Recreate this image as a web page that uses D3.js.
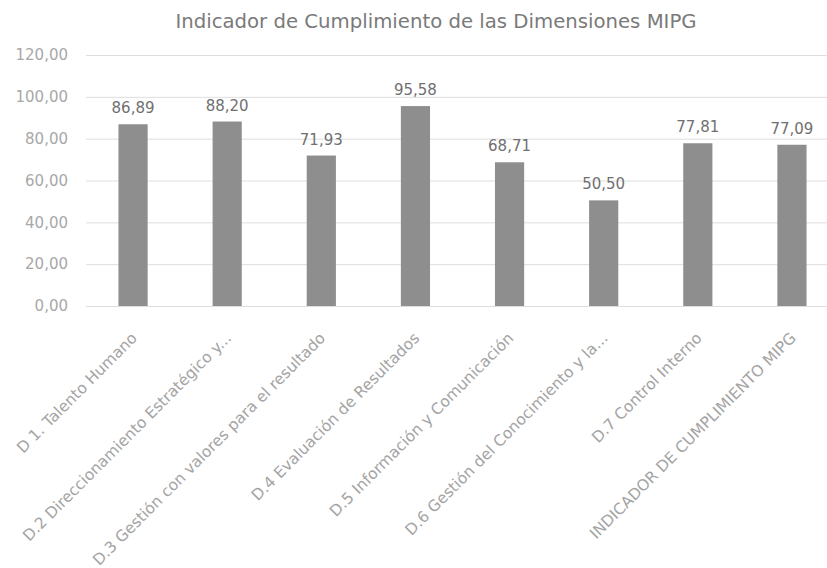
<!DOCTYPE html>
<html>
<head>
<meta charset="utf-8">
<script src="https://cdn.jsdelivr.net/npm/d3@7"></script>
<style>
  body { margin: 0; background: #fff; }
  svg { display: block; }
</style>
</head>
<body>
<svg id="chart" width="827" height="568"></svg>
<script>
// data
var categories = [
  "D 1. Talento Humano",
  "D.2 Direccionamiento Estratégico y...",
  "D.3 Gestión con valores para el resultado",
  "D.4 Evaluación de Resultados",
  "D.5 Información y Comunicación",
  "D.6 Gestión del Conocimiento y la...",
  "D.7 Control Interno",
  "INDICADOR DE CUMPLIMIENTO MIPG"
];
var values = [86.89, 88.20, 71.93, 95.58, 68.71, 50.50, 77.81, 77.09];
var yTicks = [0, 20, 40, 60, 80, 100, 120];

var width = 827, height = 568,
  margin = {top: 55, right: -12, bottom: 262, left: 86},
  fontFam = "'DejaVu Sans', sans-serif";

var svg = d3.select('#chart');

var es = d3.formatLocale({decimal: ",", thousands: ".", grouping: [3], currency: ["$", ""]});
var fmt = es.format(".2f");

var x = d3.scaleBand()
  .domain(categories)
  .range([margin.left, width - margin.right])
  .paddingInner(0.69)
  .paddingOuter(0.345);

var y = d3.scaleLinear()
  .domain([0, 120])
  .range([height - margin.bottom, margin.top]);

//title
svg.append('text')
  .attr('x', 436)
  .attr('y', 28)
  .attr('text-anchor', 'middle')
  .attr('font-family', fontFam)
  .attr('font-size', 19.7)
  .attr('fill', '#7a7a7a')
  .text('Indicador de Cumplimiento de las Dimensiones MIPG');

//gridlines + y labels
var yAxis = d3.axisLeft(y)
  .tickValues(yTicks)
  .tickSize(-(width - margin.right - margin.left))
  .tickPadding(18)
  .tickFormat(fmt);

var gY = svg.append('g')
  .attr('transform', 'translate(' + margin.left + ',0)')
  .call(yAxis);
gY.select('.domain').remove();
gY.selectAll('.tick line')
  .attr('stroke', '#dedede')
  .attr('stroke-width', 1);
gY.selectAll('.tick text')
  .attr('fill', '#a8a8a8')
  .attr('font-family', fontFam)
  .attr('font-size', 15);

//bars
svg.append('g').selectAll('rect')
  .data(values)
  .enter()
  .append('rect')
    .attr('x', function(d, i) { return x(categories[i]); })
    .attr('y', function(d) { return y(d); })
    .attr('width', x.bandwidth())
    .attr('height', function(d) { return y(0) - y(d); })
    .attr('fill', '#8e8e8e');

//value labels
svg.append('g').selectAll('text')
  .data(values)
  .enter()
  .append('text')
    .attr('x', function(d, i) { return x(categories[i]) + x.bandwidth() / 2; })
    .attr('y', function(d) { return y(d) - 11; })
    .attr('text-anchor', 'middle')
    .attr('font-family', fontFam)
    .attr('font-size', 15)
    .attr('fill', '#707070')
    .text(function(d) { return fmt(d); });

//category labels
var xAxis = d3.axisBottom(x).tickSize(0).tickPadding(0);
var gX = svg.append('g')
  .attr('transform', 'translate(0,' + y(0) + ')')
  .call(xAxis);
gX.select('.domain').remove();
gX.selectAll('.tick text')
  .attr('text-anchor', 'end')
  .attr('font-family', fontFam)
  .attr('font-size', 15.5)
  .attr('fill', '#a4a4a4')
  .attr('dy', null)
  .attr('y', 0)
  .attr('transform', 'translate(5,33) rotate(-45)');
</script>
</body>
</html>
